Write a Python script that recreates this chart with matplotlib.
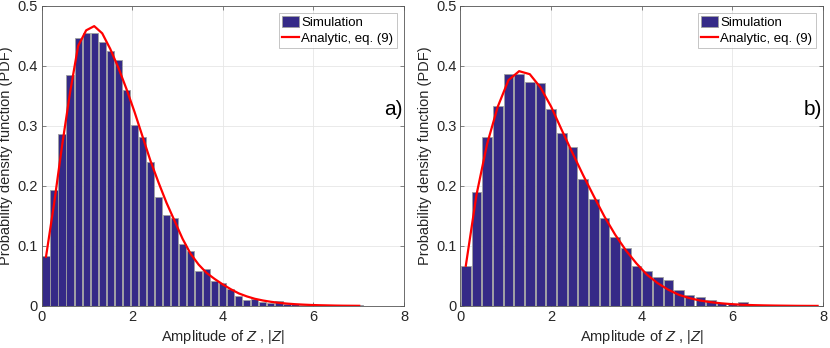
import numpy as np
import matplotlib
matplotlib.use('Agg')
import matplotlib.pyplot as plt
from matplotlib.patches import Patch
from matplotlib.lines import Line2D

plt.rcParams['font.family'] = ['Liberation Sans', 'DejaVu Sans']
plt.rcParams['mathtext.fontset'] = 'custom'
plt.rcParams['mathtext.it'] = 'Liberation Sans:italic'
plt.rcParams['mathtext.rm'] = 'Liberation Sans'

# histogram ranges and bin counts
rangeA = (0.0, 7.1)
nBinsA = 40
rangeB = (0.0, 8.0)
nBinsB = 34

simA = [0.083, 0.193, 0.286, 0.384, 0.447, 0.454, 0.455, 0.440, 0.424, 0.410,
        0.359, 0.301, 0.281, 0.240, 0.182, 0.151, 0.146, 0.103, 0.092, 0.059,
        0.062, 0.042, 0.039, 0.029, 0.017, 0.010, 0.012, 0.007, 0.0056, 0.0089,
        0.0039, 0.0028, 0.002, 0.002, 0.0017, 0.002, 0.001, 0.0007, 0.0007, 0.0012]
anaA = [0.082, 0.170, 0.267, 0.356, 0.433, 0.459, 0.466, 0.454, 0.428, 0.397,
        0.362, 0.324, 0.283, 0.242, 0.206, 0.172, 0.142, 0.112, 0.087, 0.069,
        0.055, 0.045, 0.036, 0.028, 0.021, 0.016, 0.012, 0.0092, 0.007, 0.0053,
        0.004, 0.003, 0.0023, 0.0017, 0.0013, 0.001, 0.0007, 0.0005, 0.0004, 0.0003]

simB = [0.067, 0.190, 0.282, 0.333, 0.387, 0.386, 0.373, 0.372, 0.328, 0.288,
        0.265, 0.212, 0.178, 0.147, 0.1156, 0.097, 0.067, 0.058, 0.048, 0.043,
        0.0265, 0.018, 0.0142, 0.0097, 0.0042, 0.004, 0.006, 0.0022, 0.0015, 0.001,
        0.0008, 0.0005, 0.0004, 0.0003]
anaB = [0.067, 0.185, 0.270, 0.332, 0.376, 0.391, 0.386, 0.364, 0.332, 0.293,
        0.255, 0.218, 0.183, 0.149, 0.119, 0.093, 0.071, 0.052, 0.038, 0.027,
        0.0185, 0.013, 0.009, 0.0063, 0.0044, 0.003, 0.002, 0.0014, 0.001, 0.0007,
        0.0005, 0.0003, 0.0002, 0.00015]

xTicks = [0, 2, 4, 6, 8]
yTicks = [0, 0.1, 0.2, 0.3, 0.4, 0.5]
panelLabels = ['a)', 'b)']

barColor = '#352a87'
txtColor = '#262626'

fig = plt.figure(figsize=(8.3, 3.48), dpi=100)
axA = fig.add_axes([0.0506, 0.1207, 0.4361, 0.8629])
axB = fig.add_axes([0.5548, 0.1207, 0.4367, 0.8629])

for ax, rng, nb, sim, ana, lab in [(axA, rangeA, nBinsA, simA, anaA, panelLabels[0]),
                                   (axB, rangeB, nBinsB, simB, anaB, panelLabels[1])]:
    edges = np.linspace(rng[0], rng[1], nb + 1)
    centers = 0.5 * (edges[:-1] + edges[1:])
    w = edges[1] - edges[0]
    ax.bar(centers, sim, width=0.9 * w, color=barColor, edgecolor='#a0a0a0',
           linewidth=0.6, zorder=2)
    ax.plot(centers, ana, color='red', lw=1.6, zorder=3)

    ax.set_xlim(0, 8)
    ax.set_ylim(0, 0.5)
    ax.set_xticks(xTicks)
    ax.set_yticks(yTicks)
    ax.set_yticklabels(['0', '0.1', '0.2', '0.3', '0.4', '0.5'])
    ax.grid(True, color='#e6e6e6', lw=0.6, zorder=0)
    ax.set_axisbelow(True)
    ax.tick_params(direction='in', top=True, right=True, length=3,
                   width=0.5, colors='#555555', labelcolor=txtColor, labelsize=10.5, pad=3)
    for s in ax.spines.values():
        s.set_color('#555555')
        s.set_linewidth(0.6)

    ax.set_xlabel('Amplitude of $Z$ , $|Z|$', fontsize=10.5, color=txtColor, labelpad=3)
    ax.set_ylabel('Probability density function (PDF)', fontsize=10.5, color=txtColor, labelpad=3)
    ax.text(7.98, 0.327, lab, ha='right', va='center', fontsize=15, color='black')

    handles = [Patch(facecolor=barColor, edgecolor='#a0a0a0', lw=0.6),
               Line2D([0], [0], color='red', lw=1.6)]
    leg = ax.legend(handles, ['Simulation', 'Analytic, eq. (9)'], loc='upper right',
                    fontsize=9.5, frameon=True, fancybox=False, borderpad=0.25,
                    handlelength=1.3, handleheight=0.9, handletextpad=0.15,
                    labelspacing=0.2, borderaxespad=0.55)
    leg.get_frame().set_edgecolor('#aaaaaa')
    leg.get_frame().set_linewidth(0.6)

fig.savefig('out.png', dpi=100)
